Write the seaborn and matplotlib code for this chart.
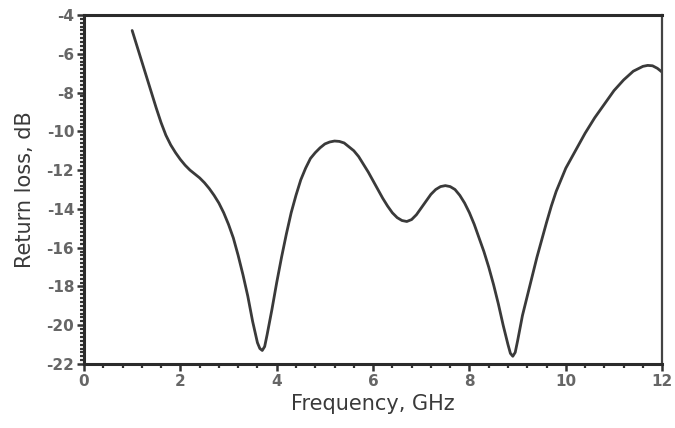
import matplotlib
matplotlib.use("Agg")
import matplotlib.pyplot as plt
from matplotlib.ticker import MultipleLocator
import seaborn as sns
import pandas as pd

freq_ghz = [1.0, 1.1, 1.2, 1.3, 1.4, 1.5, 1.6, 1.7, 1.8, 1.9, 2.0, 2.1, 2.2, 2.3, 2.4, 2.5,
            2.6, 2.7, 2.8, 2.9, 3.0, 3.1, 3.2, 3.3, 3.4, 3.5, 3.6, 3.65, 3.7, 3.75, 3.8, 3.9,
            4.0, 4.1, 4.2, 4.3, 4.4, 4.5, 4.6, 4.7, 4.8, 4.9, 5.0, 5.1, 5.2, 5.3, 5.4, 5.5,
            5.6, 5.7, 5.8, 5.9, 6.0, 6.1, 6.2, 6.3, 6.4, 6.5, 6.6, 6.7, 6.8, 6.9, 7.0, 7.1,
            7.2, 7.3, 7.4, 7.5, 7.6, 7.7, 7.8, 7.9, 8.0, 8.1, 8.2, 8.3, 8.4, 8.5, 8.6, 8.7,
            8.8, 8.85, 8.9, 8.95, 9.0, 9.1, 9.2, 9.3, 9.4, 9.5, 9.6, 9.7, 9.8, 9.9, 10.0,
            10.2, 10.4, 10.6, 10.8, 11.0, 11.2, 11.4, 11.6, 11.7, 11.8, 11.9, 12.0]
return_loss_db = [-4.8, -5.6, -6.4, -7.2, -8.0, -8.8, -9.55, -10.2, -10.7, -11.1, -11.45, -11.75, -12.0, -12.2, -12.4, -12.65,
                  -12.95, -13.3, -13.7, -14.2, -14.8, -15.5, -16.4, -17.4, -18.5, -19.8, -20.9, -21.2, -21.3, -21.1, -20.5, -19.2,
                  -17.8, -16.5, -15.3, -14.2, -13.3, -12.5, -11.9, -11.4, -11.1, -10.85, -10.65, -10.55, -10.5, -10.52, -10.6, -10.8,
                  -11.0, -11.3, -11.7, -12.1, -12.55, -13.0, -13.45, -13.85, -14.2, -14.45, -14.6, -14.65, -14.55, -14.3, -13.95, -13.6,
                  -13.25, -13.0, -12.85, -12.8, -12.85, -13.0, -13.3, -13.7, -14.2, -14.8, -15.5, -16.2, -17.0, -17.9, -18.9, -20.0,
                  -21.0, -21.45, -21.6, -21.4, -20.8, -19.5, -18.5, -17.5, -16.5, -15.6, -14.7, -13.85, -13.1, -12.5, -11.9,
                  -11.0, -10.1, -9.3, -8.6, -7.9, -7.35, -6.9, -6.65, -6.6, -6.62, -6.75, -6.95]

x_ticks = [0, 2, 4, 6, 8, 10, 12]
y_ticks = [-4, -6, -8, -10, -12, -14, -16, -18, -20, -22]
x_label = "Frequency, GHz"
y_label = "Return loss, dB"

df = pd.DataFrame({"freq": freq_ghz, "rl": return_loss_db})

sns.set_style("white")
plt.rcParams["font.family"] = ["DejaVu Sans"]
plt.rcParams["axes.unicode_minus"] = False

fig = plt.figure(figsize=(6.75, 4.28), dpi=100)
ax = fig.add_axes([0.1244, 0.1495, 0.981 - 0.1244, 0.965 - 0.1495])

sns.lineplot(data=df, x="freq", y="rl", ax=ax, color="#3a3a3a", linewidth=2.0)

ax.set_xlim(0, 12)
ax.set_ylim(-22, -4)
ax.set_xticks(x_ticks)
ax.set_yticks(y_ticks)
ax.xaxis.set_minor_locator(MultipleLocator(0.4))
ax.yaxis.set_minor_locator(MultipleLocator(0.2))
ax.tick_params(axis="both", which="major", direction="out", length=5, width=1.8,
               color="#333333", labelsize=11, labelcolor="#666666", pad=2)
ax.tick_params(axis="both", which="minor", direction="out", length=3, width=1.6, color="#333333")
ax.tick_params(axis="x", which="both", bottom=True)
ax.tick_params(axis="y", which="both", left=True)
for lab in ax.get_xticklabels() + ax.get_yticklabels():
    lab.set_fontweight("bold")

for side in ["left", "bottom", "top"]:
    ax.spines[side].set_linewidth(2.2)
    ax.spines[side].set_color("#2b2b2b")
ax.spines["right"].set_linewidth(1.6)
ax.spines["right"].set_color("#444444")

ax.set_xlabel(x_label, fontsize=15, color="#3a3a3a", labelpad=4)
ax.set_ylabel(y_label, fontsize=15, color="#3a3a3a", labelpad=8)

fig.savefig("out.png", dpi=100)
